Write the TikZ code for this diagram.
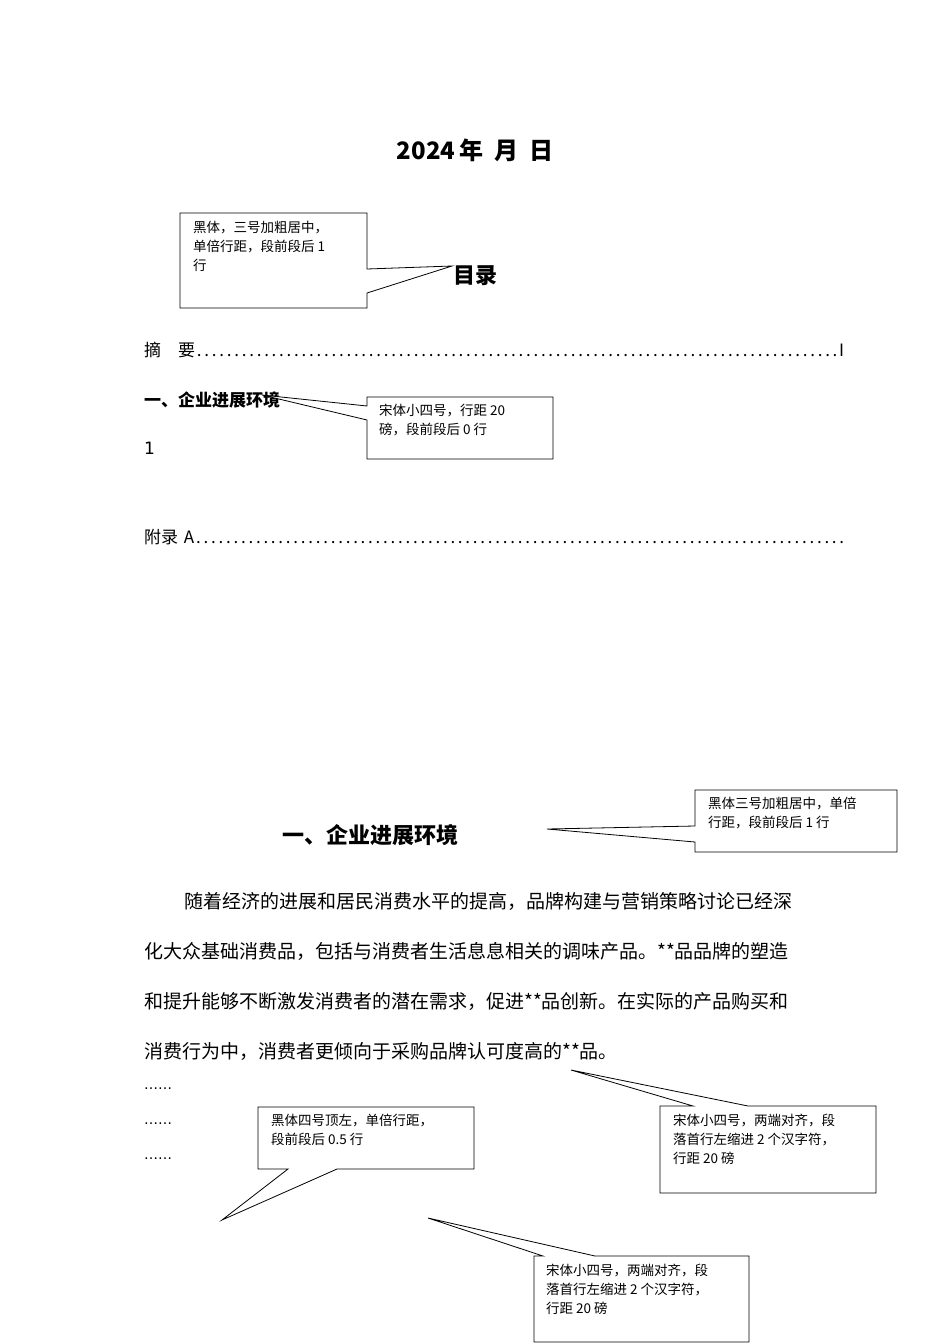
\documentclass[tikz,border=0pt]{standalone}
\usepackage{fontspec}
\setmainfont{DejaVu Sans}
\newfontfamily\cjk{Noto Sans CJK SC}
\begin{document}
\begin{tikzpicture}[x=1pt,y=-1pt,
  co/.style={draw=black,line width=0.8pt,fill=white},
  ct/.style={anchor=north west,align=left,inner sep=0pt,font=\cjk\fontsize{13.5}{19}\selectfont},
  bt/.style={anchor=west,inner sep=0pt,font=\cjk\fontsize{19}{20}\selectfont}]
\useasboundingbox (0,0) rectangle (950,1344);
\node[anchor=center,font=\cjk\bfseries\fontsize{24}{26}\selectfont] (title) at (475,150) {2024\,年\ \ 月\ \ 日};
% callout 1
\draw[co] (180,213)--(367,213)--(367,269)--(452,266)--(367,293)--(367,308)--(180,308)--cycle;
\node[ct] (c1) at (193,221) {黑体，三号加粗居中，\\单倍行距，段前段后 1\\行};
\node[anchor=center,font=\cjk\bfseries\fontsize{22}{24}\selectfont] (ml) at (475,276) {目录};
\node[anchor=west,inner sep=0pt,font=\cjk\fontsize{17}{18}\selectfont,text width=700pt] (zy) at (144,350) {摘\quad 要\dotfill I};
\node[anchor=west,inner sep=0pt,font=\cjk\bfseries\fontsize{17}{18}\selectfont] (h1) at (144,400) {一、企业进展环境};
\node[anchor=west,inner sep=0pt,font=\fontsize{17}{18}\selectfont] (one) at (144,448) {1};
\draw[co] (367,397)--(553,397)--(553,459)--(367,459)--(367,420)--(262,395)--(367,406)--cycle;
\node[ct] (c2) at (379,404) {宋体小四号，行距 20\\磅，段前段后 0 行};
\node[anchor=west,inner sep=0pt,font=\cjk\fontsize{17}{18}\selectfont,text width=702pt] (fl) at (144,537) {附录 A\dotfill};
% section
\node[anchor=center,font=\cjk\bfseries\fontsize{22}{24}\selectfont] (sec) at (370,835) {一、企业进展环境};
\draw[co] (695,790)--(897,790)--(897,852)--(695,852)--(695,842)--(547,829)--(695,826)--cycle;
\node[ct] (c3) at (708,797) {黑体三号加粗居中，单倍\\行距，段前段后 1 行};
\node[bt] (p1) at (184,901) {随着经济的进展和居民消费水平的提高，品牌构建与营销策略讨论已经深};
\node[bt] (p2) at (144,951) {化大众基础消费品，包括与消费者生活息息相关的调味产品。**品品牌的塑造};
\node[bt] (p3) at (144,1001) {和提升能够不断激发消费者的潜在需求，促进**品创新。在实际的产品购买和};
\node[bt] (p4) at (144,1051) {消费行为中，消费者更倾向于采购品牌认可度高的**品。};
\node[anchor=west,inner sep=0pt,font=\fontsize{14}{14}\selectfont] (d1) at (144,1089) {……};
\node[anchor=west,inner sep=0pt,font=\fontsize{14}{14}\selectfont] (d2) at (144,1124) {……};
\node[anchor=west,inner sep=0pt,font=\fontsize{14}{14}\selectfont] (d3) at (144,1159) {……};
% callout 4
\draw[co] (660,1106)--(693,1106)--(571,1070)--(748,1106)--(876,1106)--(876,1193)--(660,1193)--cycle;
\node[ct] (c4) at (673,1114) {宋体小四号，两端对齐，段\\落首行左缩进 2 个汉字符，\\行距 20 磅};
% callout 5
\draw[co] (258,1107)--(474,1107)--(474,1169)--(337,1169)--(222,1220)--(288,1169)--(258,1169)--cycle;
\node[ct] (c5) at (271,1114) {黑体四号顶左，单倍行距，\\段前段后 0.5 行};
% callout 6
\draw[co] (534,1256)--(543,1256)--(428,1218)--(595,1256)--(749,1256)--(749,1342)--(534,1342)--cycle;
\node[ct] (c6) at (546,1264) {宋体小四号，两端对齐，段\\落首行左缩进 2 个汉字符，\\行距 20 磅};
\end{tikzpicture}
\end{document}
